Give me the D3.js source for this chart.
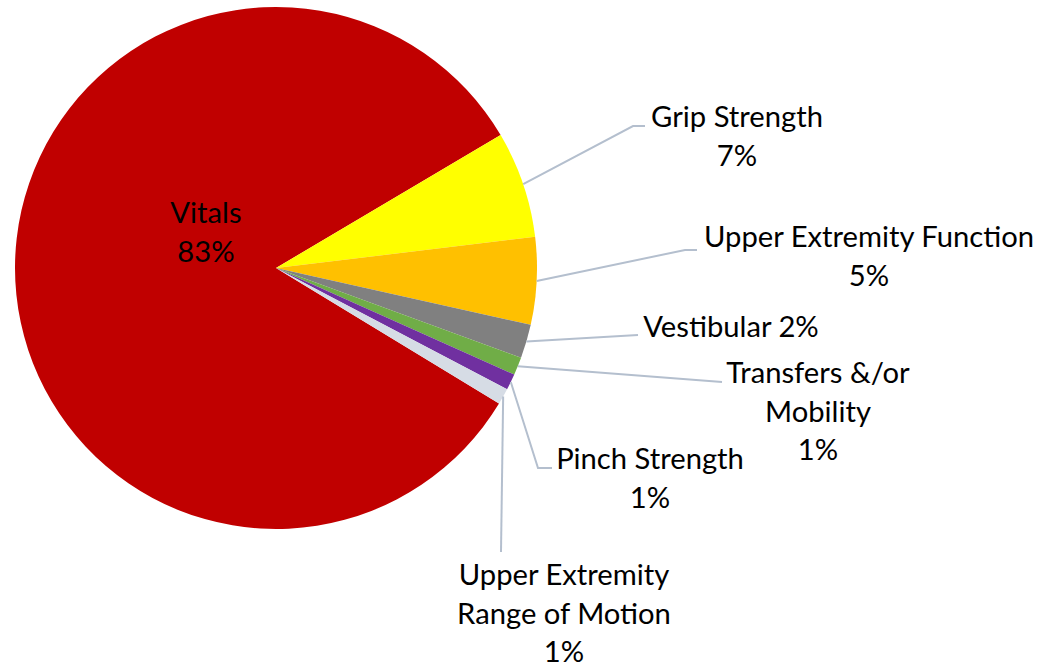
<!DOCTYPE html>
<html>
<head>
<meta charset="utf-8">
<script src="https://cdn.jsdelivr.net/npm/d3@7"></script>
<style>
  body { margin: 0; background: #fff; }
  text { font-family: Lato, "Open Sans", sans-serif; font-size: 29.2px; fill: #000; }
</style>
</head>
<body>
<svg id="chart" width="1048" height="670"></svg>
<script>
// data
const categories = ["Vitals", "Grip Strength", "Upper Extremity Function", "Vestibular",
  "Transfers &/or Mobility", "Pinch Strength", "Upper Extremity Range of Motion"];
const shares = [82.8, 6.6, 5.4, 2.1, 1.1, 1.0, 1.0];
const colors = ["#c00000", "#ffff00", "#ffc000", "#808080", "#70ad47", "#7030a0", "#d6dce5"];

// label text lines (the % line gets appended or joined)
const labelLines = [
  ["Vitals"],
  ["Grip Strength"],
  ["Upper Extremity Function"],
  ["Vestibular"],
  ["Transfers &/or", "Mobility"],
  ["Pinch Strength"],
  ["Upper Extremity", "Range of Motion"]
];
const pctOnSameLine = [false, false, false, true, false, false, false];

// label layout: centre x, first baseline y, leader route (elbow/end points)
const labelLayout = [
  { x: 206, y: 223, leader: null },
  { x: 737, y: 127, leader: [[633, 126], [645, 126]] },
  { x: 869, y: 247, leader: [[685, 250], [697, 250]] },
  { x: 731, y: 337, leader: [[638, 335]] },
  { x: 818, y: 383, leader: [[722, 382]] },
  { x: 650, y: 469, leader: [[538, 468], [552, 468]] },
  { x: 564, y: 585, leader: [[501, 552]] }
];

const cx = 276, cy = 268, radius = 261;
const lineGap = 38.5;
const startDeg = 121.3;

const svg = d3.select("#chart");
const g = svg.append("g").attr("transform", `translate(${cx},${cy})`);

const rows = categories.map((c, i) => ({ name: c, value: shares[i], color: colors[i] }));

const pie = d3.pie()
  .sort(null)
  .value(d => d.value)
  .startAngle(startDeg * Math.PI / 180)
  .endAngle(startDeg * Math.PI / 180 + 2 * Math.PI);

const arcs = pie(rows);
const arc = d3.arc().innerRadius(0).outerRadius(radius);

g.selectAll("path.slice")
  .data(arcs)
  .join("path")
  .attr("class", "slice")
  .attr("d", arc)
  .attr("fill", d => d.data.color);

// leader lines from slice edge mid-angle
const line = d3.line();
arcs.forEach((a, i) => {
  const lay = labelLayout[i];
  if (!lay.leader) return;
  const mid = (a.startAngle + a.endAngle) / 2;
  const p0 = [cx + radius * Math.sin(mid), cy - radius * Math.cos(mid)];
  svg.append("path")
    .attr("d", line([p0].concat(lay.leader)))
    .attr("fill", "none")
    .attr("stroke", "#b4bfce")
    .attr("stroke-width", 2);
});

// labels
arcs.forEach((a, i) => {
  const lay = labelLayout[i];
  const pct = Math.round(a.data.value) + "%";
  let lines = labelLines[i].slice();
  if (pctOnSameLine[i]) lines[lines.length - 1] += " " + pct;
  else lines.push(pct);
  const t = svg.append("text")
    .attr("text-anchor", "middle")
    .attr("x", lay.x)
    .attr("y", lay.y);
  lines.forEach((s, k) => {
    t.append("tspan")
      .attr("x", lay.x)
      .attr("y", lay.y + k * lineGap)
      .text(s);
  });
});
</script>
</body>
</html>
